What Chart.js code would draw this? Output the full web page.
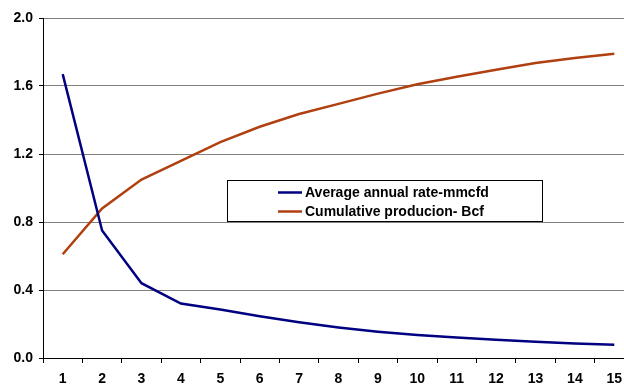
<html>
<head>
<script src="https://cdn.jsdelivr.net/npm/chart.js@4.4.0/dist/chart.umd.min.js"></script>
<style>
  html, body { margin: 0; padding: 0; overflow: hidden; background: #fff; }
  #wrap { width: 634px; height: 385px; }
</style>
</head>
<body>
<div id="wrap"><canvas id="prodChart"></canvas></div>
<script>
// years
var years = ["1","2","3","4","5","6","7","8","9","10","11","12","13","14","15"];
// Average annual rate - mmcfd
var avgRate = [1.67, 0.75, 0.44, 0.32, 0.285, 0.245, 0.21, 0.18, 0.155, 0.135, 0.12, 0.107, 0.095, 0.085, 0.078];
// Cumulative production - Bcf
var cumProd = [0.61, 0.88, 1.05, 1.16, 1.27, 1.36, 1.435, 1.495, 1.555, 1.61, 1.655, 1.695, 1.735, 1.765, 1.79];
var seriesNames = ["Average annual rate-mmcfd", "Cumulative producion- Bcf"];
var yTicks = [0, 0.4, 0.8, 1.2, 1.6, 2.0];

var boldFont = { family: "Arial, 'Liberation Sans', sans-serif", size: 14, weight: 'bold' };

// legend box drawn inside the plot area
var boxLegend = {
  id: 'boxLegend',
  afterDraw: function(chart) {
    var ctx = chart.ctx;
    var x = 227.5, y = 180.5, w = 315, h = 41;
    ctx.save();
    ctx.fillStyle = '#fff';
    ctx.fillRect(x, y, w, h);
    ctx.strokeStyle = '#000';
    ctx.lineWidth = 1;
    ctx.strokeRect(x, y, w, h);
    ctx.font = 'bold 14px Arial, "Liberation Sans", sans-serif';
    ctx.textBaseline = 'middle';
    chart.data.datasets.forEach(function(ds, i) {
      var ly = y + 12 + i * 19;
      ctx.strokeStyle = ds.borderColor;
      ctx.lineWidth = 2.5;
      ctx.beginPath();
      ctx.moveTo(278, ly);
      ctx.lineTo(302, ly);
      ctx.stroke();
      ctx.fillStyle = '#000';
      ctx.fillText(ds.label, 305, ly + 1);
    });
    ctx.restore();
  }
};

var ctx = document.getElementById("prodChart").getContext('2d');
var prodChart = new Chart(ctx, {
  type: 'line',
  data: {
    labels: years,
    datasets: [{
      label: seriesNames[0],
      data: avgRate,
      borderColor: '#000080',
      borderWidth: 2.5,
      pointRadius: 0,
      tension: 0
    }, {
      label: seriesNames[1],
      data: cumProd,
      borderColor: '#b04010',
      borderWidth: 2.5,
      pointRadius: 0,
      tension: 0
    }]
  },
  options: {
    responsive: true,
    maintainAspectRatio: false,
    animation: false,
    layout: { padding: { top: 18, right: 0, left: 0, bottom: 0 } },
    plugins: {
      legend: { display: false },
      tooltip: { enabled: false }
    },
    scales: {
      x: {
        offset: true,
        grid: { display: true, offset: true, drawOnChartArea: false, drawTicks: true, tickLength: 5, color: '#000' },
        border: { color: '#000', width: 1 },
        ticks: { color: '#000', font: boldFont, padding: 8, maxRotation: 0 },
        afterFit: function(s) { s.height = 27; }
      },
      y: {
        min: 0,
        max: 2,
        afterBuildTicks: function(s) { s.ticks = yTicks.map(function(v) { return { value: v }; }); },
        grid: { color: '#808080', lineWidth: 1, tickLength: 4, tickColor: '#000' },
        border: { color: '#000', width: 1 },
        ticks: {
          color: '#000', font: boldFont, padding: 6,
          callback: function(v) { return v.toFixed(1); }
        },
        afterFit: function(s) { s.width = 43; }
      }
    }
  },
  plugins: [boxLegend]
});
</script>
</body>
</html>
